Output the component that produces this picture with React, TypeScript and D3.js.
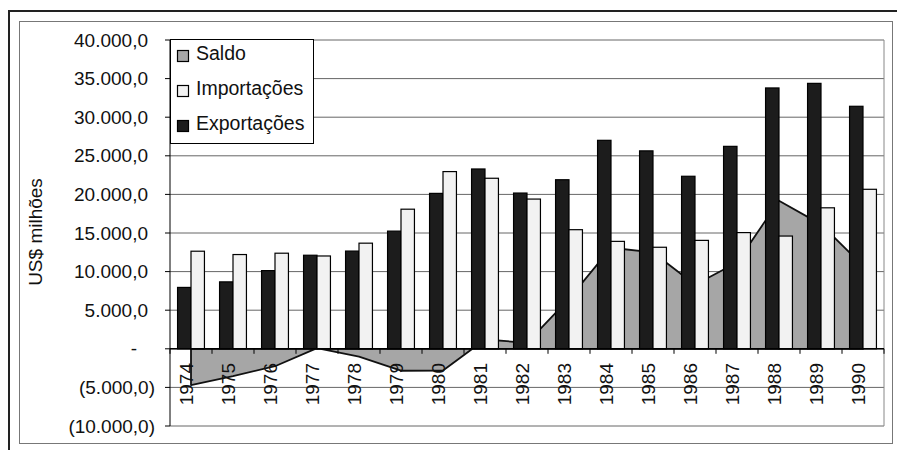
import * as d3 from 'd3'
import React from 'react'

const years = ['1974', '1975', '1976', '1977', '1978', '1979', '1980', '1981', '1982', '1983', '1984', '1985', '1986', '1987', '1988', '1989', '1990']
const exportacoes = [7951, 8670, 10128, 12120, 12659, 15244, 20132, 23293, 20175, 21899, 27005, 25639, 22349, 26224, 33789, 34383, 31414]
const importacoes = [12641, 12210, 12383, 12023, 13683, 18084, 22955, 22091, 19395, 15429, 13916, 13153, 14044, 15052, 14605, 18263, 20661]
const saldo = [-4690, -3540, -2255, 97, -1024, -2840, -2823, 1202, 780, 6470, 13090, 12486, 8305, 11172, 19184, 16120, 10753]
const yTicks = [-10000, -5000, 0, 5000, 10000, 15000, 20000, 25000, 30000, 35000, 40000]
const legendItems = [
  { label: 'Saldo', fill: '#a6a6a6' },
  { label: 'Importações', fill: '#f2f2f2' },
  { label: 'Exportações', fill: '#1c1c1c' },
]

const W = 897, H = 450
const font = '"Liberation Sans", Arial, sans-serif'

const locale = d3.formatLocale({ decimal: ',', thousands: '.', grouping: [3], currency: ['', ''] })
const fmt = locale.format(',.1f')
const tickLabel = (v: number) => v === 0 ? '-' : v < 0 ? `(${fmt(-v)})` : fmt(v)

export default function App() {
  const
    x = d3.scaleBand<string>().domain(years).range([170, 884]),
    y = d3.scaleLinear().domain([-10000, 40000]).range([426, 40]),
    bw = x.bandwidth() * 0.32,
    off = (x.bandwidth() - 2 * bw) / 2,
    cx = (i: number) => (x(years[i]) as number) + x.bandwidth() / 2,
    area = d3.area<number>()
      .x((_, i) => cx(i))
      .y0(y(0))
      .y1(d => y(d))(saldo) as string,
    [x0, x1] = x.range()

  return (
    <svg width={W} height={H} style={{ position: 'absolute', left: 0, top: 0, background: '#fff' }} fontFamily={font}>
      <rect x={9} y={11} width={W + 10} height={H + 10} fill='none' stroke='#222' strokeWidth={2} />
      <rect x={19.5} y={21.5} width={873} height={422} fill='none' stroke='#777' strokeWidth={1} />

      {yTicks.map(t => (
        <line key={t} x1={x0} x2={x1} y1={y(t)} y2={y(t)} stroke='#666' strokeWidth={1} />
      ))}
      <line x1={x1} x2={x1} y1={y(40000)} y2={y(-10000)} stroke='#888' strokeWidth={1} />

      <path d={area} fill='#a6a6a6' stroke='#111' strokeWidth={1.8} strokeLinejoin='round' />

      {years.map((yr, i) => (
        <g key={yr}>
          <rect x={(x(yr) as number) + off} y={y(exportacoes[i])} width={bw} height={y(0) - y(exportacoes[i])}
            fill='#1c1c1c' stroke='#000' strokeWidth={1.2} />
          <rect x={(x(yr) as number) + off + bw} y={y(importacoes[i])} width={bw} height={y(0) - y(importacoes[i])}
            fill='#f2f2f2' stroke='#000' strokeWidth={1.2} />
        </g>
      ))}

      <line x1={x0} x2={x0} y1={y(40000)} y2={y(-10000)} stroke='#000' strokeWidth={1} />
      <line x1={x0} x2={x1} y1={y(0)} y2={y(0)} stroke='#000' strokeWidth={1.5} />
      {years.map((yr, i) => (
        <line key={'t' + yr} x1={(x(yr) as number) + (i === 0 ? 0 : 0)} x2={x(yr) as number} y1={y(0)} y2={y(0) + 5} stroke='#000' />
      ))}
      <line x1={x1} x2={x1} y1={y(0)} y2={y(0) + 5} stroke='#000' />
      {yTicks.map(t => (
        <line key={'yt' + t} x1={x0 - 5} x2={x0} y1={y(t)} y2={y(t)} stroke='#000' />
      ))}

      {yTicks.map(t => (
        <text key={'yl' + t} x={t < 0 ? 155 : t === 0 ? 137 : 148} y={y(t)} dy='0.35em' textAnchor='end'
          fontSize={19} fill='#111'>{tickLabel(t)}</text>
      ))}

      {years.map((yr, i) => (
        <text key={'xl' + yr} transform={`translate(${cx(i) + 2},363) rotate(-90)`} textAnchor='end'
          fontSize={19} fill='#111'>{yr}</text>
      ))}

      <text transform='translate(42,232) rotate(-90)' textAnchor='middle' fontSize={19} fill='#111'>US$ milhões</text>

      <rect x={170.5} y={39.5} width={143} height={104} fill='#fff' stroke='#000' strokeWidth={1} />
      {legendItems.map((d, i) => (
        <g key={d.label} transform={`translate(0,${60 + i * 35})`}>
          <rect x={177.5} y={-9.5} width={11} height={11} fill={d.fill} stroke='#000' strokeWidth={1.2} />
          <text x={196} y={0} fontSize={19.5} fill='#111'>{d.label}</text>
        </g>
      ))}
    </svg>
  )
}
